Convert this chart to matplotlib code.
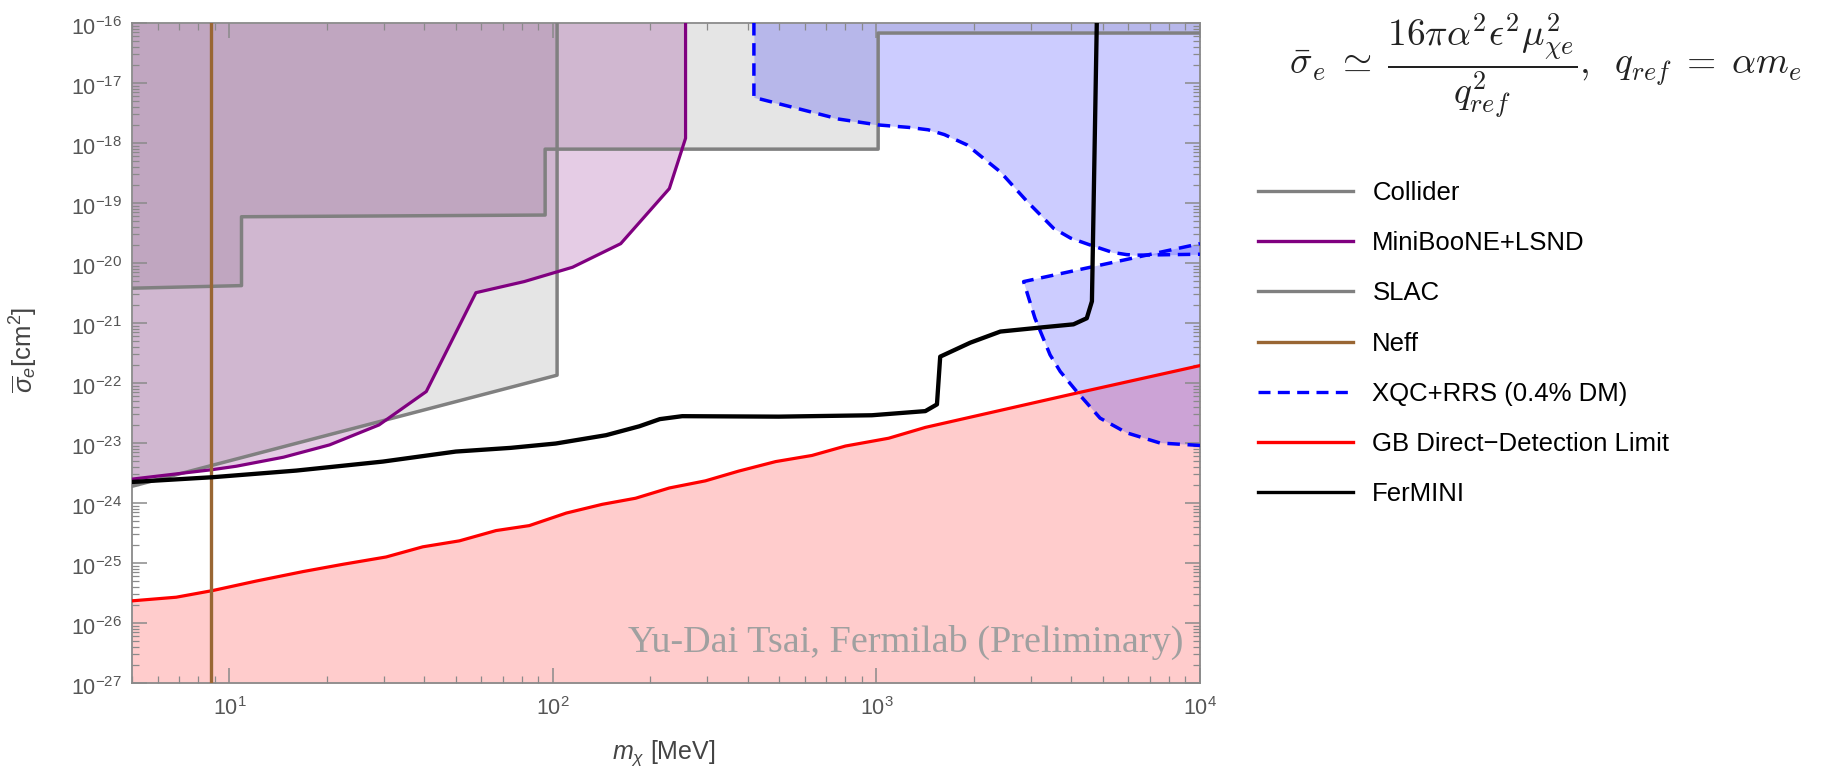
import matplotlib
matplotlib.use("Agg")
import matplotlib.pyplot as plt
from matplotlib.lines import Line2D
from matplotlib.ticker import LogLocator, NullFormatter, LogFormatterSciNotation
from matplotlib.transforms import ScaledTranslation

# values: masses in MeV, cross sections in cm^2
collider_m = [5, 10.9, 10.9, 94.6, 94.6, 1012, 1012, 10000]
collider_s = [3.8e-21, 4.2e-21, 5.9e-20, 6.3e-20, 7.9e-19, 7.9e-19, 6.8e-17, 6.8e-17]

slac_m = [5, 103, 103]
slac_s = [1.9e-24, 1.35e-22, 1e-16]

miniboone_m = [5, 8.87, 10.5, 14.7, 20.4, 29.0, 40.6, 57.8, 81.5, 115, 162, 229, 257, 257]
miniboone_s = [2.5e-24, 3.6e-24, 4.1e-24, 5.8e-24, 9.3e-24, 2.0e-23, 7.2e-23, 3.2e-21,
               4.9e-21, 8.5e-21, 2.1e-20, 1.74e-19, 1.2e-18, 1e-16]

neff_m = 8.8

xqc_up_m = [418, 418, 604, 766, 1012, 1259, 1445, 1622, 1905, 2138, 2415, 2917,
            3524, 3981, 4571, 5370, 5929, 6310, 10000]
xqc_up_s = [1e-16, 5.75e-18, 3.47e-18, 2.5e-18, 2.0e-18, 1.82e-18, 1.66e-18, 1.38e-18,
            9.3e-19, 5.6e-19, 3.3e-19, 1.07e-19, 3.8e-20, 2.6e-20, 2.0e-20, 1.5e-20,
            1.38e-20, 1.35e-20, 1.4e-20]

xqc_low_m = [10000, 7520, 5930, 4910, 4160, 3700, 3440, 3090, 2850, 10000]
xqc_low_s = [9.1e-24, 1.0e-23, 1.48e-23, 2.6e-23, 7.2e-23, 1.55e-22, 2.95e-22, 1.2e-21,
             4.9e-21, 2.1e-20]

gb_m = [5, 6.85, 8.87, 12.1, 16.9, 22.4, 30.5, 39.6, 51.4, 66.7, 84.5, 110, 142, 180,
        229, 296, 375, 488, 632, 802, 1090, 1416, 4159, 10000]
gb_s = [2.34e-26, 2.69e-26, 3.47e-26, 5.0e-26, 7.2e-26, 9.5e-26, 1.26e-25, 1.86e-25,
        2.34e-25, 3.47e-25, 4.2e-25, 6.8e-25, 9.5e-25, 1.2e-24, 1.78e-24, 2.34e-24,
        3.4e-24, 4.9e-24, 6.2e-24, 8.9e-24, 1.2e-23, 1.82e-23, 6.8e-23, 1.95e-22]

fermini_m = [5, 8.87, 16.1, 29.8, 50.1, 74.1, 102, 146, 185, 214, 251, 499, 968, 1416,
             1538, 1574, 1950, 2415, 3281, 4064, 4467, 4634, 4797]
fermini_s = [2.24e-24, 2.69e-24, 3.47e-24, 4.9e-24, 7.2e-24, 8.3e-24, 9.8e-24, 1.35e-23,
             1.9e-23, 2.5e-23, 2.8e-23, 2.75e-23, 2.9e-23, 3.4e-23, 4.4e-23, 2.75e-22,
             4.7e-22, 7.2e-22, 8.5e-22, 9.5e-22, 1.2e-21, 2.3e-21, 1e-16]

labels = ["Collider", "MiniBooNE+LSND", "SLAC", "Neff", "XQC+RRS (0.4% DM)",
          "GB Direct\u2212Detection Limit", "FerMINI"]

x_lim = (5, 1e4)
y_lim = (1e-27, 1e-16)
x_ticks = [1e1, 1e2, 1e3, 1e4]
y_ticks = [1e-27, 1e-26, 1e-25, 1e-24, 1e-23, 1e-22, 1e-21, 1e-20, 1e-19, 1e-18,
           1e-17, 1e-16]

plt.rcParams["font.family"] = ["Liberation Sans", "DejaVu Sans"]
plt.rcParams["mathtext.fontset"] = "custom"
plt.rcParams["mathtext.rm"] = "Liberation Sans"
plt.rcParams["mathtext.it"] = "Liberation Sans:italic"
plt.rcParams["mathtext.bf"] = "Liberation Sans:bold"

GRAY = (0.5, 0.5, 0.5)
PURPLE = (0.5, 0.0, 0.5)
BROWN = (0.6, 0.4, 0.2)
BLUE = (0.0, 0.0, 1.0)
RED = (1.0, 0.0, 0.0)
A = 0.2

fig = plt.figure(figsize=(18.24, 7.68), dpi=100)
ax = fig.add_axes([132 / 1824, 1 - 683 / 768, 1068 / 1824, 660 / 768])
ax.set_xscale("log")
ax.set_yscale("log")

top = y_lim[1]
bottom = y_lim[0]

# fills
ax.fill_between(gb_m, bottom, gb_s, color=RED, alpha=A, lw=0, zorder=1)
ax.fill_between(collider_m, collider_s, top, color=GRAY, alpha=A, lw=0, zorder=1)
ax.fill_between(slac_m, slac_s, top, color=GRAY, alpha=A, lw=0, zorder=1)
ax.fill_between(miniboone_m, miniboone_s, top, color=PURPLE, alpha=A, lw=0, zorder=1)
ax.fill_between(xqc_up_m, xqc_up_s, top, color=BLUE, alpha=A, lw=0, zorder=1)
ax.fill(xqc_low_m, xqc_low_s, color=BLUE, alpha=A, lw=0, zorder=1)

# boundary lines
dash = (0, (3.6, 2.2))
ax.plot(gb_m, gb_s, color=RED, lw=2.3, zorder=3)
ax.plot(collider_m, collider_s, color=GRAY, lw=2.5, zorder=3)
ax.plot(slac_m, slac_s, color=GRAY, lw=2.5, zorder=3)
ax.plot(miniboone_m, miniboone_s, color=PURPLE, lw=2.3, zorder=3)
ax.plot(xqc_up_m, xqc_up_s, color=BLUE, lw=2.5, ls=dash, zorder=3)
ax.plot(xqc_low_m, xqc_low_s, color=BLUE, lw=2.5, ls=dash, zorder=3)
ax.plot([neff_m, neff_m], [bottom, top], color=BROWN, lw=2.4, zorder=3)
ax.plot(fermini_m, fermini_s, color="black", lw=3.1, zorder=4)

ax.set_xlim(*x_lim)
ax.set_ylim(*y_lim)

# axes styling
for sp in ax.spines.values():
    sp.set_color("#8a8a8a")
    sp.set_linewidth(1.3)
ax.set_xticks(x_ticks)
ax.set_yticks(y_ticks)
ax.xaxis.set_major_formatter(LogFormatterSciNotation())
ax.yaxis.set_major_formatter(LogFormatterSciNotation())
ax.xaxis.set_minor_locator(LogLocator(base=10, subs=range(2, 10), numticks=20))
ax.yaxis.set_minor_locator(LogLocator(base=10, subs=range(2, 10), numticks=30))
ax.xaxis.set_minor_formatter(NullFormatter())
ax.yaxis.set_minor_formatter(NullFormatter())
ax.set_xlim(*x_lim)
ax.set_ylim(*y_lim)
ax.tick_params(which="both", direction="in", top=True, right=True, color="#8a8a8a")
ax.tick_params(which="major", length=11, width=1.1)
ax.tick_params(which="minor", length=5, width=0.9)
ax.tick_params(axis="y", which="major", labelsize=15.5, labelcolor="#555555", pad=7)
ax.tick_params(axis="x", which="major", labelsize=15.5, labelcolor="#555555", pad=10)

fig.text(24 / 1824, 0.545, r"$\overline{\sigma}_e$[cm$^2$]", rotation=90,
         ha="center", va="center", fontsize=18.5, color="#444444")
fig.text(664 / 1824, 1 - 753 / 768, r"$m_\chi$ [MeV]", ha="center", va="center",
         fontsize=18, color="#444444")

ax.text(0.984, 0.047, "Yu-Dai Tsai, Fermilab (Preliminary)", transform=ax.transAxes,
        ha="right", va="baseline", fontsize=27.5, color="#a0a0a0",
        family="Liberation Serif", zorder=5)

# formula
fig.text(1545 / 1824, 1 - 66 / 768,
         r"$\bar{\sigma}_e \;\simeq\; \dfrac{16\pi\alpha^2\epsilon^2\mu_{\chi e}^2}{q_{ref}^2},\;\; q_{ref} \;=\; \alpha m_e$",
         ha="center", va="center", fontsize=27, color="#222222", math_fontfamily="cm")

# legend
handles = [
    Line2D([], [], color=GRAY, lw=2.4),
    Line2D([], [], color=PURPLE, lw=2.4),
    Line2D([], [], color=GRAY, lw=2.4),
    Line2D([], [], color=BROWN, lw=2.4),
    Line2D([], [], color=BLUE, lw=2.4, ls=(0, (3.6, 2.2))),
    Line2D([], [], color=RED, lw=2.4),
    Line2D([], [], color="black", lw=2.4),
]
fig.legend(handles, labels, loc="upper left", bbox_to_anchor=(1258 / 1824, 1 - 181 / 768),
           frameon=False, fontsize=18.5, handlelength=3.7, handletextpad=0.75,
           labelspacing=1.02, borderpad=0, borderaxespad=0)

# the reference sets the y tick labels a few pixels below their ticks
fig.canvas.draw()
shift = ScaledTranslation(0, -3 / 100, fig.dpi_scale_trans)
for lab in ax.get_yticklabels():
    lab.set_transform(lab.get_transform() + shift)

fig.savefig("out.png", dpi=100)
